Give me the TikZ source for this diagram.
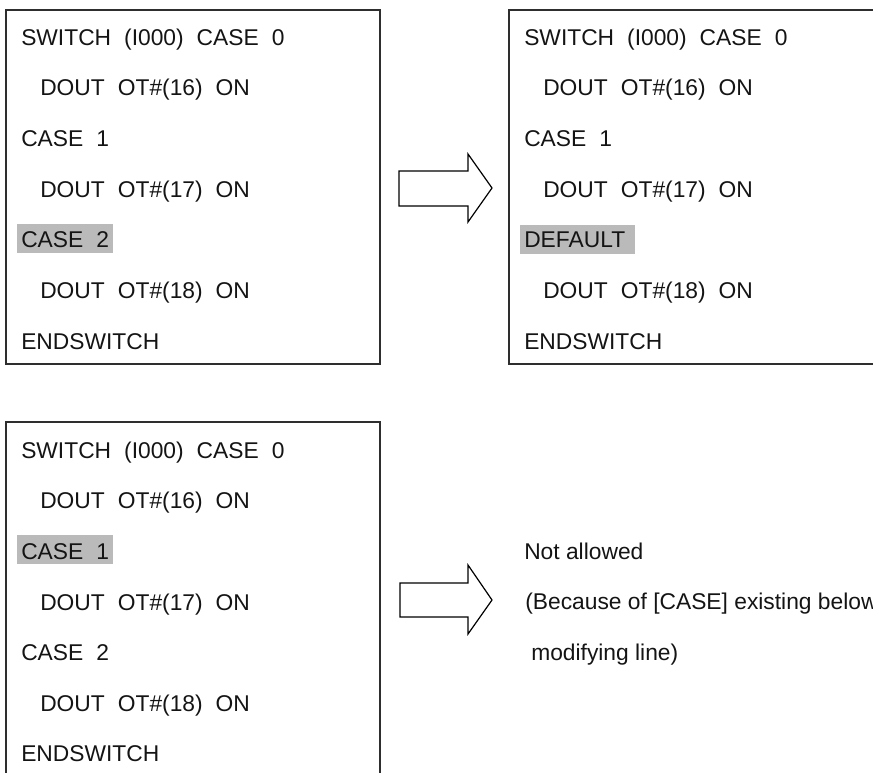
\documentclass[tikz,border=0pt]{standalone}
\usepackage{fontspec}
\setmainfont{Liberation Sans}
\begin{document}
\begin{tikzpicture}[x=0.75pt,y=-0.75pt,
  frame/.style={draw=black!82,line width=1.4pt},
  hl/.style={fill=black!27},
  code/.style={anchor=base west,inner sep=0pt,text=black!92,font=\fontsize{17.1pt}{20pt}\selectfont},
  blockarrow/.style={draw=black,line width=0.9pt,fill=white,line join=miter}]
\useasboundingbox (0,0) rectangle (873,772);
\clip (0,0) rectangle (873,772);

% two-space gap used in the program listings
\newcommand\gp{\hspace{0.57em}}

% ---------- top-left listing ----------
\draw[frame] (6,10) rectangle (380,364);
\fill[hl] (17,224) rectangle (113,253);
\foreach \t/\x/\k [count=\i] in {
  {SWITCH\gp(I000)\gp CASE\gp 0}/21/0,
  {DOUT\gp OT\#(16)\gp ON}/40/1,
  {CASE\gp 1}/21/2,
  {DOUT\gp OT\#(17)\gp ON}/40/3,
  {CASE\gp 2}/21/4,
  {DOUT\gp OT\#(18)\gp ON}/40/5,
  {ENDSWITCH}/21/6}
  \node[code] (a\i) at (\x,45+50.67*\k) {\t};

% ---------- top-right listing ----------
\draw[frame] (509,10) rectangle (890,364);
\fill[hl] (520,225) rectangle (635,254);
\foreach \t/\x/\k [count=\i] in {
  {SWITCH\gp(I000)\gp CASE\gp 0}/524/0,
  {DOUT\gp OT\#(16)\gp ON}/543/1,
  {CASE\gp 1}/524/2,
  {DOUT\gp OT\#(17)\gp ON}/543/3,
  {DEFAULT}/524/4,
  {DOUT\gp OT\#(18)\gp ON}/543/5,
  {ENDSWITCH}/524/6}
  \node[code] (b\i) at (\x,45+50.67*\k) {\t};

% ---------- bottom-left listing ----------
\draw[frame] (6,790) -- (6,422) -- (380,422) -- (380,790);
\fill[hl] (17,535) rectangle (113,564);
\foreach \t/\x/\k [count=\i] in {
  {SWITCH\gp(I000)\gp CASE\gp 0}/21/0,
  {DOUT\gp OT\#(16)\gp ON}/40/1,
  {CASE\gp 1}/21/2,
  {DOUT\gp OT\#(17)\gp ON}/40/3,
  {CASE\gp 2}/21/4,
  {DOUT\gp OT\#(18)\gp ON}/40/5,
  {ENDSWITCH}/21/6}
  \node[code] (c\i) at (\x,458.3+50.6*\k) {\t};

% ---------- result note ----------
\node[code] (n1) at (524,559) {Not allowed};
\node[code] (n2) at (525,609.6) {(Because of [CASE] existing below};
\node[code] (n3) at (531,660.2) {modifying line)};

% ---------- block arrows ----------
\draw[blockarrow] (399,171) -- (468,171) -- (468,154) -- (492,188)
  -- (468,222) -- (468,206) -- (399,206) -- cycle;
\draw[blockarrow] (400,583) -- (468,583) -- (468,565) -- (492,600)
  -- (468,634) -- (468,617) -- (400,617) -- cycle;
\end{tikzpicture}
\end{document}
